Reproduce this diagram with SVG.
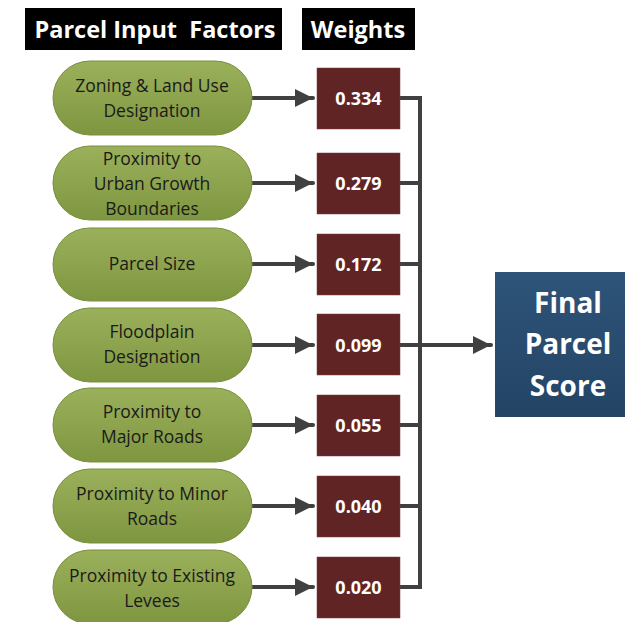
<svg xmlns="http://www.w3.org/2000/svg" width="625" height="622" viewBox="0 0 625 622">
<defs>
<linearGradient id="gGreen" x1="0" y1="0" x2="0" y2="1">
<stop offset="0" stop-color="#9bb05a"/>
<stop offset="1" stop-color="#7f9640"/>
</linearGradient>
<linearGradient id="gBlue" x1="0" y1="0" x2="0" y2="1">
<stop offset="0" stop-color="#2e5479"/>
<stop offset="1" stop-color="#234465"/>
</linearGradient>
<marker id="arr" viewBox="0 0 10 10" refX="10" refY="5" markerWidth="4.5" markerHeight="4.5" markerUnits="strokeWidth" orient="auto">
<path d="M0,0 L10,5 L0,10 z" fill="#404040"/>
</marker>
<style>
.hdr{fill:#000}
.hdrt{font-family:"Open Sans","Liberation Sans",sans-serif;font-weight:bold;font-size:23.5px;fill:#fff;text-anchor:middle}
.pill{fill:url(#gGreen);stroke:#7a8f3d;stroke-width:1}
.pt{font-family:"Open Sans","Liberation Sans",sans-serif;font-size:17.5px;fill:#1a1a1a;text-anchor:middle}
.wbox{fill:#612424;stroke:#7a3a3a;stroke-width:0.5}
.wt{font-family:"Open Sans","Liberation Sans",sans-serif;font-weight:bold;font-size:18px;fill:#fff;text-anchor:middle}
.conn{stroke:#404040;stroke-width:4;fill:none;stroke-linecap:round}
.fin{fill:url(#gBlue)}
.ft{font-family:"Open Sans","Liberation Sans",sans-serif;font-weight:bold;font-size:28px;fill:#fff;text-anchor:middle}
</style>
</defs>
<rect width="625" height="622" fill="#fff"/>
<g id="hdr-factors"><rect class="hdr" x="25" y="8" width="257" height="42"/><text class="hdrt" x="155" y="38" xml:space="preserve">Parcel Input  Factors</text></g>
<g id="hdr-weights"><rect class="hdr" x="302" y="8" width="113" height="42"/><text class="hdrt" x="358" y="38">Weights</text></g>

<g id="connectors">
<line class="conn" x1="252" y1="98" x2="313" y2="98" marker-end="url(#arr)"/>
<line class="conn" x1="252" y1="183" x2="313" y2="183" marker-end="url(#arr)"/>
<line class="conn" x1="252" y1="264" x2="313" y2="264" marker-end="url(#arr)"/>
<line class="conn" x1="252" y1="345" x2="313" y2="345" marker-end="url(#arr)"/>
<line class="conn" x1="252" y1="425" x2="313" y2="425" marker-end="url(#arr)"/>
<line class="conn" x1="252" y1="506" x2="313" y2="506" marker-end="url(#arr)"/>
<line class="conn" x1="252" y1="587" x2="313" y2="587" marker-end="url(#arr)"/>
<path class="conn" d="M400,98 H420 V587 H400" stroke-linejoin="miter"/>
<line class="conn" x1="400" y1="183" x2="420" y2="183"/>
<line class="conn" x1="400" y1="264" x2="420" y2="264"/>
<line class="conn" x1="400" y1="345" x2="420" y2="345"/>
<line class="conn" x1="400" y1="425" x2="420" y2="425"/>
<line class="conn" x1="400" y1="506" x2="420" y2="506"/>
<line class="conn" x1="420" y1="345" x2="491" y2="345" marker-end="url(#arr)"/>
</g>

<g id="f1"><rect class="pill" x="53" y="61" width="199" height="74" rx="37"/><text class="pt" x="152" y="92">Zoning &amp; Land Use</text><text class="pt" x="152" y="117">Designation</text></g>
<g id="f2"><rect class="pill" x="53" y="146" width="199" height="74" rx="37"/><text class="pt" x="152" y="165">Proximity to</text><text class="pt" x="152" y="190">Urban Growth</text><text class="pt" x="152" y="215">Boundaries</text></g>
<g id="f3"><rect class="pill" x="53" y="228" width="199" height="73" rx="36.5"/><text class="pt" x="152" y="270">Parcel Size</text></g>
<g id="f4"><rect class="pill" x="53" y="308" width="199" height="74" rx="37"/><text class="pt" x="152" y="338">Floodplain</text><text class="pt" x="152" y="363">Designation</text></g>
<g id="f5"><rect class="pill" x="53" y="388" width="199" height="74" rx="37"/><text class="pt" x="152" y="418">Proximity to</text><text class="pt" x="152" y="443">Major Roads</text></g>
<g id="f6"><rect class="pill" x="53" y="469" width="199" height="74" rx="37"/><text class="pt" x="152" y="500">Proximity to Minor</text><text class="pt" x="152" y="525">Roads</text></g>
<g id="f7"><rect class="pill" x="53" y="550" width="199" height="74" rx="37"/><text class="pt" x="152" y="582">Proximity to Existing</text><text class="pt" x="152" y="607">Levees</text></g>

<g id="w1"><rect class="wbox" x="317" y="68" width="83" height="61"/><text class="wt" x="358.5" y="105">0.334</text></g>
<g id="w2"><rect class="wbox" x="317" y="153" width="83" height="61"/><text class="wt" x="358.5" y="190">0.279</text></g>
<g id="w3"><rect class="wbox" x="317" y="234" width="83" height="61"/><text class="wt" x="358.5" y="271">0.172</text></g>
<g id="w4"><rect class="wbox" x="317" y="314" width="83" height="61"/><text class="wt" x="358.5" y="352">0.099</text></g>
<g id="w5"><rect class="wbox" x="317" y="395" width="83" height="61"/><text class="wt" x="358.5" y="432">0.055</text></g>
<g id="w6"><rect class="wbox" x="317" y="476" width="83" height="61"/><text class="wt" x="358.5" y="513">0.040</text></g>
<g id="w7"><rect class="wbox" x="317" y="557" width="83" height="61"/><text class="wt" x="358.5" y="594">0.020</text></g>

<g id="final"><rect class="fin" x="495" y="272" width="135" height="145"/><text class="ft" x="568" y="313">Final</text><text class="ft" x="568" y="354">Parcel</text><text class="ft" x="568" y="396">Score</text></g>
</svg>
